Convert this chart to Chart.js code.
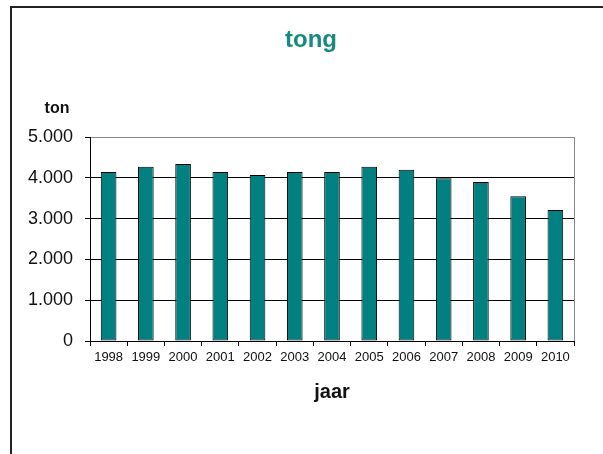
<!DOCTYPE html>
<html lang="nl">
<head>
    <meta charset="UTF-8">
    <title>tong</title>
    <script src="https://cdn.jsdelivr.net/npm/chart.js@4.4.0/dist/chart.umd.min.js"></script>
    <style>
        body {
            margin: 0;
            background: #fff;
            font-family: Arial, "Liberation Sans", sans-serif;
        }
        #frame {
            position: absolute;
            left: 10px;
            top: 6px;
            width: 591px;
            height: 460px;
            border-left: 2px solid #222;
            border-top: 2px solid #222;
            border-right: 1px solid #ddd;
        }
        #wrap {
            position: absolute;
            left: 0;
            top: 0;
        }
    </style>
</head>
<body>
    <div id="frame"></div>
    <div id="wrap">
        <canvas id="myChart" width="603" height="454"></canvas>
    </div>

    <script>
        // data
        const years = ['1998', '1999', '2000', '2001', '2002', '2003', '2004',
                       '2005', '2006', '2007', '2008', '2009', '2010'];
        const tonnes = [4140, 4270, 4340, 4140, 4070, 4140, 4140,
                        4270, 4200, 3990, 3900, 3550, 3210];
        const yTicks = [0, 1000, 2000, 3000, 4000, 5000];

        const titleText = 'tong';
        const yLabel = 'ton';
        const xLabel = 'jaar';

        const teal = '#008080';
        const fontName = 'Arial, "Liberation Sans", sans-serif';

        function dots(v) {
            return String(v).replace(/\B(?=(\d{3})+(?!\d))/g, '.');
        }

        // title, unit label and right border of the plot area
        const decorations = {
            id: 'decorations',
            afterDraw(chart) {
                const c = chart.ctx;
                const area = chart.chartArea;
                c.save();
                c.strokeStyle = '#8a8a8a';
                c.lineWidth = 1;
                c.beginPath();
                c.moveTo(Math.round(area.right) + 0.5, area.top);
                c.lineTo(Math.round(area.right) + 0.5, area.bottom);
                c.stroke();

                c.textAlign = 'center';
                c.textBaseline = 'alphabetic';
                c.fillStyle = '#178a80';
                c.font = 'bold 24px ' + fontName;
                c.fillText(titleText, 311, 47);

                c.fillStyle = '#111';
                c.font = 'bold 16px ' + fontName;
                c.fillText(yLabel, 57, 113);
                c.restore();
            }
        };

        const ctx = document.getElementById('myChart').getContext('2d');
        const chart = new Chart(ctx, {
            type: 'bar',
            data: {
                labels: years,
                datasets: [{
                    data: tonnes,
                    backgroundColor: teal,
                    borderColor: '#000',
                    borderWidth: 1,
                    borderSkipped: false,
                    barPercentage: 0.42,
                    categoryPercentage: 1
                }]
            },
            options: {
                responsive: false,
                animation: false,
                layout: {
                    padding: {left: 10, right: 29, top: 137, bottom: 43}
                },
                plugins: {
                    legend: {display: false},
                    tooltip: {enabled: false}
                },
                scales: {
                    x: {
                        afterFit(scale) { scale.height = 70; },
                        grid: {
                            offset: true,
                            drawOnChartArea: false,
                            tickLength: 5,
                            color: '#000',
                            tickColor: '#000'
                        },
                        border: {color: '#000', width: 1},
                        ticks: {
                            color: '#111',
                            padding: 4,
                            maxRotation: 0,
                            autoSkip: false,
                            font: {family: fontName, size: 13}
                        },
                        title: {
                            display: true,
                            text: xLabel,
                            color: '#111',
                            font: {family: fontName, size: 20, weight: 'bold'},
                            padding: {top: 0, bottom: 7}
                        }
                    },
                    y: {
                        min: yTicks[0],
                        max: yTicks[yTicks.length - 1],
                        afterFit(scale) { scale.width = 80; },
                        afterBuildTicks(scale) {
                            scale.ticks = yTicks.map(v => ({value: v}));
                        },
                        grid: {
                            tickLength: 5,
                            color: c => c.tick && c.tick.value === 5000 ? '#8a8a8a' : '#000',
                            tickColor: '#000'
                        },
                        border: {color: '#000', width: 1},
                        ticks: {
                            color: '#111',
                            padding: 12,
                            font: {family: fontName, size: 18},
                            callback: v => dots(v)
                        }
                    }
                }
            },
            plugins: [decorations]
        });
    </script>
</body>
</html>
